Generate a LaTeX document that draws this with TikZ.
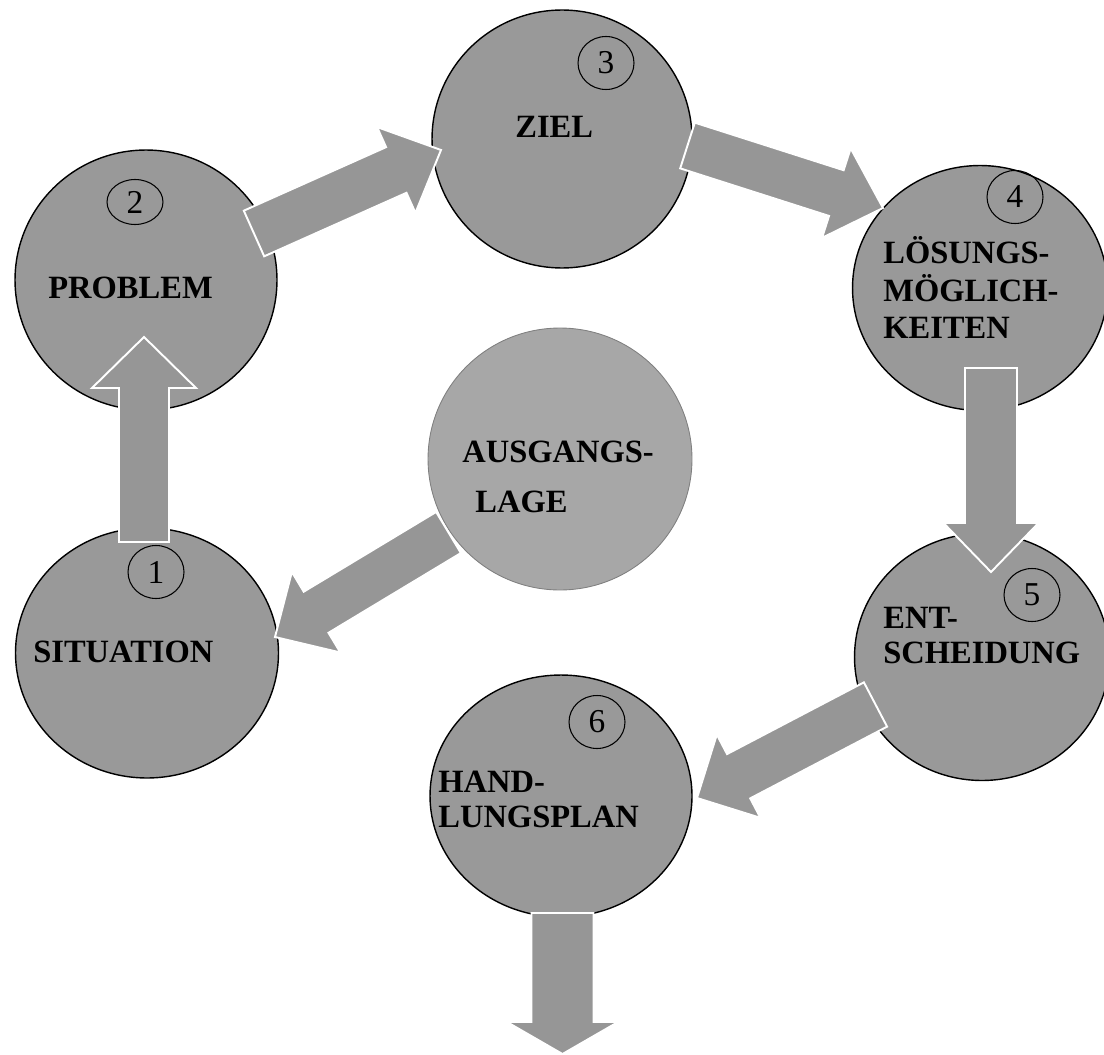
\documentclass[tikz,border=0pt]{standalone}
\usepackage{fontspec}
\setmainfont{Liberation Serif}
\usetikzlibrary{calc,shapes.geometric}

\definecolor{ringfill}{gray}{0.6}
\definecolor{hubfill}{gray}{0.655}
\definecolor{hubline}{gray}{0.5}
\definecolor{arrowfill}{gray}{0.59}

\tikzset{
  ring/.style={ellipse, draw=black, line width=0.8pt, fill=ringfill, inner sep=0pt},
  hub/.style={ellipse, draw=hubline, line width=0.5pt, fill=hubfill, inner sep=0pt},
  num/.style={ellipse, draw=black, line width=0.6pt, inner sep=0pt,
    minimum width=1.12cm, minimum height=1.06cm, font=\fontsize{19}{21}\selectfont},
  lbl/.style={anchor=base west, inner sep=0pt, font=\bfseries\fontsize{18.5}{21}\selectfont},
  arrshaft/.store in=\arrshaft, arrhead/.store in=\arrhead, arrlen/.store in=\arrlen,
  arrshaft=0.5cm, arrhead=0.94cm, arrlen=0.98cm,
  blockarrow/.style={fill=arrowfill, draw=white, line width=1.1pt,
    to path={
      ($(\tikztostart)!\arrshaft!90:(\tikztotarget)$)
      -- ($($(\tikztotarget)!\arrlen!(\tikztostart)$)!\arrshaft!90:(\tikztotarget)$)
      -- ($($(\tikztotarget)!\arrlen!(\tikztostart)$)!\arrhead!90:(\tikztotarget)$)
      -- (\tikztotarget)
      -- ($($(\tikztotarget)!\arrlen!(\tikztostart)$)!\arrhead!-90:(\tikztotarget)$)
      -- ($($(\tikztotarget)!\arrlen!(\tikztostart)$)!\arrshaft!-90:(\tikztotarget)$)
      -- ($(\tikztostart)!\arrshaft!-90:(\tikztotarget)$)
      -- cycle}}
}

\begin{document}
\begin{tikzpicture}[x=0.02cm, y=-0.02cm]
	\useasboundingbox (0,0) rectangle (1104,1054);

	\node[ring, minimum width=5.26cm, minimum height=5cm] (situation) at (147,653) {};
	\node[ring, minimum width=5.24cm, minimum height=5.2cm] (problem) at (146,280) {};
	\node[ring, minimum width=5.2cm, minimum height=5.16cm] (ziel) at (562,139) {};
	\node[ring, minimum width=5.1cm, minimum height=4.9cm] (loesung) at (980,288) {};
	\node[ring, minimum width=5.1cm, minimum height=4.94cm] (entscheidung) at (982,657) {};
	\node[ring, minimum width=5.24cm, minimum height=4.84cm] (handlung) at (561,796) {};
	\node[hub, minimum width=5.28cm, minimum height=5.24cm] (ausgang) at (560,459) {};

	\node[num] (n1) at (156,572) {1};
	\node[num, minimum height=0.9cm] (n2) at (135,202) {2};
	\node[num] (n3) at (606,63) {3};
	\node[num] (n4) at (1015,197) {4};
	\node[num] (n5) at (1032,595) {5};
	\node[num] (n6) at (597,722) {6};

	\node[lbl] (tsituation) at (33,662) {SITUATION};
	\node[lbl] (tproblem) at (48,298) {PROBLEM};
	\node[lbl] (tziel) at (515,138) {ZIEL};
	\node[lbl] (tloesung) at (883,263) {\begin{tabular}[t]{@{}l@{}}LÖSUNGS-\\MÖGLICH-\\KEITEN\end{tabular}};
	\node[lbl] (tentscheidung) at (883,628) {\begin{tabular}[t]{@{}l@{}}ENT-\\[-1pt]SCHEIDUNG\end{tabular}};
	\node[lbl] (thandlung) at (438,792) {\begin{tabular}[t]{@{}l@{}}HAND-\\[-1pt]LUNGSPLAN\end{tabular}};
	\node[lbl] (tausgang) at (462,462) {\begin{tabular}[t]{@{}l@{}}AUSGANGS-\\[8pt]\hspace*{0.26cm}LAGE\end{tabular}};

	\coordinate (a1s) at (144,542);   \coordinate (a1e) at (144,337);
	\coordinate (a2s) at (254,233.5); \coordinate (a2e) at (441,150);
	\coordinate (a3s) at (687.5,145.5); \coordinate (a3e) at (883,208);
	\coordinate (a4s) at (991,368);   \coordinate (a4e) at (991,572);
	\coordinate (a5s) at (875.5,704.5); \coordinate (a5e) at (697,798);
	\coordinate (a6s) at (448.5,532.5); \coordinate (a6e) at (275,637);
	\coordinate (a7s) at (562.5,913); \coordinate (a7e) at (562.5,1054);

	\draw[blockarrow, arrhead=1.04cm, arrlen=1.02cm] (a1s) to (a1e);
	\draw[blockarrow] (a2s) to (a2e);
	\draw[blockarrow, arrshaft=0.48cm] (a3s) to (a3e);
	\draw[blockarrow, arrshaft=0.52cm, arrhead=0.95cm] (a4s) to (a4e);
	\draw[blockarrow, arrlen=0.94cm] (a5s) to (a5e);
	\draw[blockarrow, arrshaft=0.48cm, arrlen=0.96cm] (a6s) to (a6e);
	\draw[blockarrow, arrshaft=0.62cm, arrhead=1.11cm, arrlen=0.64cm] (a7s) to (a7e);
\end{tikzpicture}
\end{document}
